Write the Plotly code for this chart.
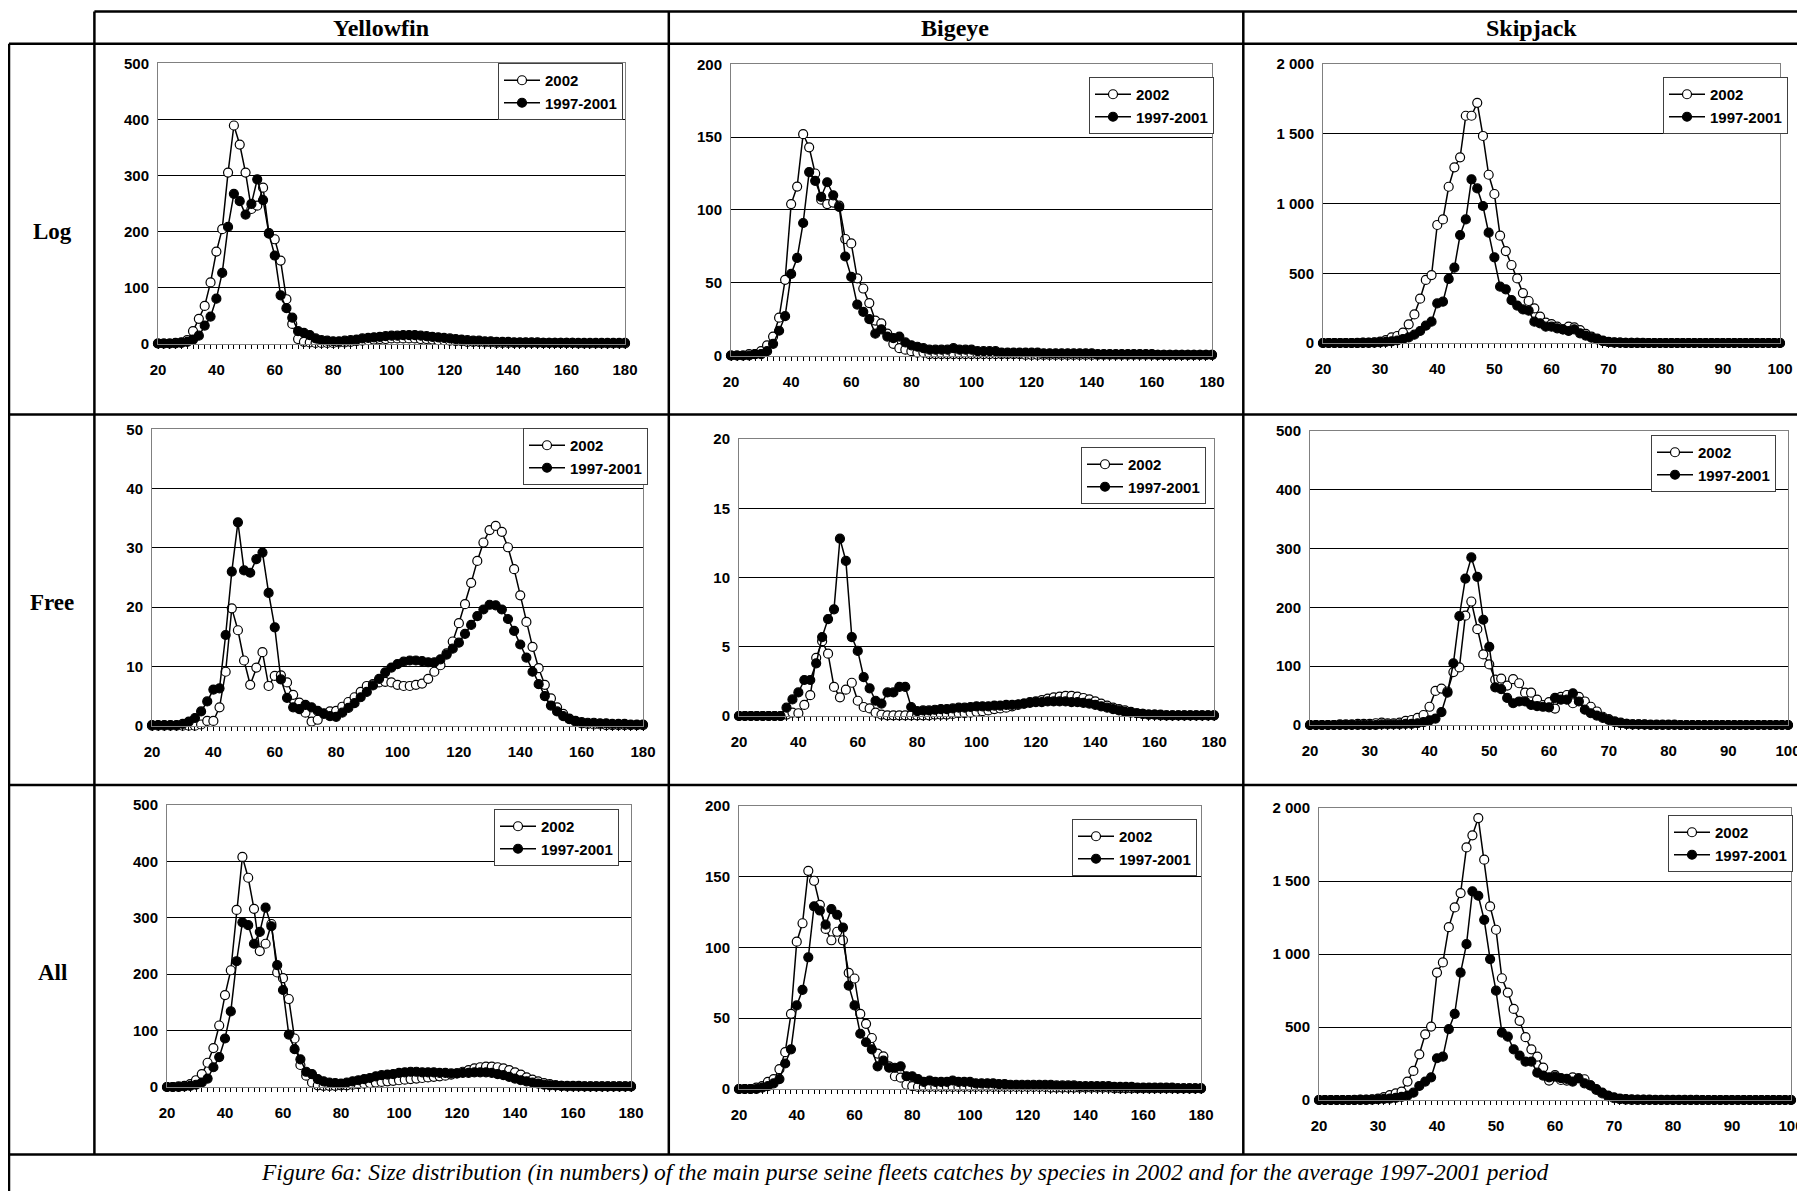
import plotly.graph_objects as go

W, H = 1805, 1191
PAGE_MARGIN = 8  # the html body keeps its default 8px margin

# size classes (cm): 2 cm classes for yellowfin / bigeye, 1 cm for skipjack
SIZES_YB = list(range(20, 181, 2))
SIZES_SKJ = list(range(20, 101))

SPECIES = ["Yellowfin", "Bigeye", "Skipjack"]
FLEETS = ["Log", "Free", "All"]
SERIES_NAMES = ["2002", "1997-2001"]
CAPTION = ("Figure 6a: Size distribution (in numbers) of the main purse seine fleets catches "
           "by species in 2002 and for the average 1997-2001 period")

# ---- Log ----
YF_LOG_2002 = [0, 0, 0, 1, 2, 6, 22, 44, 67, 109,
               164, 204, 305, 389, 355, 305, 240, 246, 278, 197,
               186, 148, 79, 35, 8, 3, 2, 1, 1, 1,
               1, 2, 2, 3, 4, 5, 6, 7, 8, 8,
               9, 9, 9, 9, 9, 8, 8, 7, 6, 6,
               5, 4, 4, 3, 3, 3, 2, 2, 1, 1,
               1, 1, 1, 1, 1, 1, 1, 1, 1, 1,
               1, 1, 0, 0, 0, 0, 0, 0, 0, 0,
               0]
YF_LOG_AVG = [0, 0, 0, 0, 1, 3, 7, 14, 32, 48,
              80, 126, 208, 267, 254, 230, 249, 293, 256, 196,
              157, 86, 63, 46, 22, 19, 15, 9, 6, 5,
              4, 4, 5, 6, 7, 9, 10, 11, 12, 13,
              14, 14, 15, 15, 15, 14, 13, 12, 11, 10,
              9, 8, 7, 6, 5, 5, 4, 4, 3, 3,
              3, 2, 2, 2, 2, 2, 1, 1, 1, 1,
              1, 1, 1, 1, 1, 1, 1, 1, 1, 1,
              1]
BE_LOG_2002 = [0, 0, 0, 1, 1, 3, 7, 13, 26, 52,
               104, 116, 152, 143, 125, 107, 104, 105, 103, 80,
               77, 53, 46, 36, 24, 22, 15, 8, 5, 4,
               3, 2, 2, 1, 1, 1, 1, 1, 1, 1,
               1, 1, 1, 1, 1, 1, 1, 1, 1, 0.5,
               0.5, 0.5, 0.5, 0.5, 0.5, 0.5, 0.5, 0.5, 0.5, 0.5,
               0.5, 0.5, 0.5, 0.5, 0.5, 0.5, 0.5, 0.5, 0.5, 0.5,
               0.5, 0.5, 0.5, 0.5, 0.5, 0.5, 0.5, 0.5, 0.5, 0.5,
               0.5]
BE_LOG_AVG = [0, 0, 0, 0, 1, 1, 3, 8, 17, 27,
              56, 67, 91, 126, 120, 109, 119, 110, 102, 68,
              54, 35, 30, 25, 15, 18, 13, 12, 13, 9,
              7, 6, 5, 4, 4, 4, 4, 5, 4, 4,
              4, 3, 3, 3, 3, 2, 2, 2, 2, 2,
              2, 2, 1.5, 1.5, 1.5, 1.5, 1.5, 1.5, 1.5, 1.5,
              1.5, 1, 1, 1, 1, 1, 1, 1, 1, 1,
              1, 0.5, 0.5, 0.5, 0.5, 0.5, 0.5, 0.5, 0.5, 0.5,
              0.5]
SKJ_LOG_2002 = [0, 0, 0, 0, 0, 0, 1, 2, 3, 5,
                10, 20, 41, 50, 74, 134, 205, 318, 452, 487,
                846, 886, 1120, 1259, 1331, 1629, 1629, 1722, 1484, 1206,
                1068, 769, 659, 559, 463, 358, 301, 248, 189, 146,
                136, 117, 98, 117, 112, 93, 65, 45, 31, 17,
                7, 3, 2, 1, 1, 1, 1, 0, 0, 0,
                0, 0, 0, 0, 0, 0, 0, 0, 0, 0,
                0, 0, 0, 0, 0, 0, 0, 0, 0, 0,
                0]
SKJ_LOG_AVG = [0, 0, 0, 0, 0, 0, 0, 1, 1, 2,
               5, 8, 12, 18, 28, 40, 60, 86, 124, 153,
               284, 296, 459, 540, 774, 886, 1173, 1108, 982, 791,
               614, 404, 385, 308, 268, 241, 232, 153, 141, 117,
               117, 105, 98, 86, 98, 69, 53, 38, 26, 14,
               8, 4, 2, 1, 1, 1, 0, 0, 0, 0,
               0, 0, 0, 0, 0, 0, 0, 0, 0, 0,
               0, 0, 0, 0, 0, 0, 0, 0, 0, 0,
               0]

# ---- Free ----
YF_FREE_2002 = [0, 0, 0, 0, 0, 0, 0, 0, 0.2, 0.8,
                0.8, 3.1, 9.1, 19.8, 16.1, 11.0, 6.9, 9.8, 12.4, 6.7,
                8.4, 8.5, 7.3, 5.2, 3.9, 2.2, 0.7, 1.0, 2.1, 2.4,
                2.5, 3.2, 4.0, 4.8, 5.7, 6.7, 7.0, 7.3, 7.4, 7.3,
                6.9, 6.7, 6.7, 6.9, 7.1, 7.9, 9.1, 10.2, 12.2, 14.2,
                17.3, 20.5, 24.1, 27.8, 30.9, 33.0, 33.7, 32.7, 30.1, 26.4,
                22.0, 17.5, 13.3, 9.7, 6.9, 4.6, 3.1, 2.0, 1.2, 0.7,
                0.4, 0.3, 0.2, 0.2, 0.1, 0.1, 0.1, 0.1, 0.1, 0.1,
                0.1]
YF_FREE_AVG = [0.1, 0.1, 0.1, 0.1, 0.1, 0.3, 0.7, 1.3, 2.4, 4.1,
               6.1, 6.3, 15.3, 26.0, 34.3, 26.2, 25.8, 28.1, 29.2, 22.4,
               16.6, 7.8, 4.7, 3.1, 2.8, 3.5, 3.1, 2.5, 2.0, 1.6,
               1.5, 2.2, 3.0, 3.8, 4.8, 5.7, 6.8, 7.9, 9.0, 9.8,
               10.4, 10.8, 11.0, 11.0, 10.9, 10.7, 10.7, 11.2, 12.0, 13.0,
               14.0, 15.5, 17.0, 18.5, 19.6, 20.4, 20.3, 19.6, 18.0, 16.0,
               13.7, 11.5, 9.1, 7.0, 5.0, 3.4, 2.4, 1.6, 1.1, 0.8,
               0.6, 0.5, 0.5, 0.4, 0.4, 0.3, 0.3, 0.3, 0.2, 0.2,
               0.2]
BE_FREE_2002 = [0, 0, 0, 0, 0, 0, 0, 0, 0.1, 0.25,
                0.2, 0.8, 1.5, 4.2, 5.4, 4.5, 2.1, 1.35, 1.9, 2.4,
                1.1, 0.65, 0.55, 0.25, 0.1, 0.05, 0.05, 0.05, 0.05, 0.05,
                0.05, 0.05, 0.05, 0.1, 0.1, 0.1, 0.15, 0.2, 0.2, 0.25,
                0.3, 0.35, 0.4, 0.5, 0.55, 0.6, 0.7, 0.8, 0.9, 1.0,
                1.05, 1.15, 1.25, 1.35, 1.4, 1.45, 1.45, 1.4, 1.3, 1.2,
                1.05, 0.9, 0.75, 0.6, 0.5, 0.4, 0.3, 0.2, 0.15, 0.1,
                0.1, 0.05, 0.05, 0.05, 0.05, 0.05, 0.05, 0.05, 0.05, 0.05,
                0.05]
BE_FREE_AVG = [0, 0, 0, 0, 0, 0, 0, 0, 0.6, 1.2,
               1.7, 2.6, 2.6, 3.8, 5.7, 7.0, 7.7, 12.8, 11.2, 5.7,
               4.7, 2.8, 2.0, 1.1, 0.9, 1.7, 1.7, 2.1, 2.1, 0.65,
               0.35, 0.4, 0.4, 0.45, 0.5, 0.5, 0.55, 0.6, 0.6, 0.65,
               0.7, 0.7, 0.7, 0.75, 0.75, 0.8, 0.8, 0.85, 0.9, 0.95,
               1.0, 1.0, 1.05, 1.05, 1.05, 1.05, 1.0, 1.0, 0.95, 0.9,
               0.8, 0.7, 0.6, 0.5, 0.4, 0.3, 0.25, 0.2, 0.15, 0.1,
               0.1, 0.1, 0.05, 0.05, 0.05, 0.05, 0.05, 0.05, 0.05, 0.05,
               0.05]
SKJ_FREE_2002 = [0, 0, 0, 0, 0, 1, 1, 1, 2, 2,
                 2, 3, 4, 3, 3, 4, 7, 8.5, 12, 17,
                 31, 58, 62, 57, 90, 98, 186, 210, 163, 120,
                 103, 77, 79, 67, 78, 71, 55, 55, 43, 34,
                 39, 28, 48, 51, 37, 48, 40, 31, 23, 14,
                 10, 6, 4, 2, 1, 1, 1, 0, 0, 0,
                 0, 0, 0, 0, 0, 0, 0, 0, 0, 0,
                 0, 0, 0, 0, 0, 0, 0, 0, 0, 0,
                 0]
SKJ_FREE_AVG = [0, 0, 0, 0, 0, 0, 0, 0, 0, 0,
                0, 0, 1, 1, 1, 1, 2, 2, 3, 5,
                8, 11, 22, 55, 105, 185, 249, 285, 252, 179,
                133, 64, 61, 46, 37, 40, 40, 34, 32, 31,
                30, 46, 43, 43, 54, 40, 26, 20, 16, 12,
                8.5, 5, 3, 2, 1, 1, 0.5, 0.5, 0.5, 0.5,
                0.5, 0.5, 0, 0, 0, 0, 0, 0, 0, 0,
                0, 0, 0, 0, 0, 0, 0, 0, 0, 0,
                0]

# ---- All ----
YF_ALL_2002 = [0, 0, 1, 2, 5, 12, 23, 43, 69, 109,
               163, 207, 314, 408, 371, 316, 241, 254, 289, 203,
               193, 156, 86, 39, 20, 8, 3, 2, 2, 2,
               3, 3, 4, 5, 6, 7, 8, 9, 10, 11,
               12, 13, 14, 15, 16, 17, 18, 19, 20, 22,
               24, 27, 30, 33, 35, 36, 36, 35, 33, 30,
               26, 22, 17, 13, 10, 7, 5, 3, 2, 1,
               1, 1, 1, 1, 1, 1, 1, 1, 1, 1,
               1]
YF_ALL_AVG = [0, 0, 0, 1, 2, 4, 8, 15, 35, 53,
              86, 134, 223, 292, 287, 254, 275, 318, 285, 216,
              172, 93, 67, 49, 27, 23, 14, 10, 8, 7,
              6, 8, 10, 12, 14, 16, 19, 21, 22, 23,
              25, 26, 27, 27, 26, 26, 26, 25, 25, 24,
              24, 25, 25, 26, 26, 26, 25, 23, 21, 18,
              15, 12, 10, 8, 6, 4, 3, 3, 2, 2,
              2, 2, 1, 1, 1, 1, 1, 1, 1, 1,
              1]
BE_ALL_2002 = [0, 0, 0, 1, 2, 5, 7, 14, 26, 53,
               104, 117, 154, 147, 130, 113, 105, 111, 105, 82,
               78, 53, 46, 36, 25, 23, 16, 9, 8, 3,
               2, 1.5, 1.5, 1.5, 1.5, 1.5, 1.5, 1.5, 1.5, 1.5,
               1.5, 1.5, 1.5, 1.5, 1.5, 1.5, 1.5, 1.5, 1.5, 1.5,
               1.5, 1.5, 1.5, 1.5, 1, 1, 1, 1, 1, 1,
               1, 1, 1, 1, 1, 0.5, 0.5, 0.5, 0.5, 0.5,
               0.5, 0.5, 0.5, 0.5, 0.5, 0.5, 0.5, 0.5, 0.5, 0.5,
               0.5]
BE_ALL_AVG = [0, 0, 0, 0, 1, 2, 4, 7, 18, 28,
              59, 70, 93, 129, 126, 116, 127, 123, 114, 73,
              59, 39, 33, 28, 16, 20, 15, 15, 16, 9,
              9, 7, 5, 6, 5, 5, 5, 6, 5, 5,
              5, 4, 4, 4, 4, 3.5, 3.5, 3, 3, 3,
              3, 3, 3, 3, 3, 2.5, 2.5, 2.5, 2.5, 2,
              2, 2, 2, 2, 2, 1.5, 1.5, 1.5, 1.5, 1,
              1, 1, 1, 1, 1, 1, 0.5, 0.5, 0.5, 0.5,
              0.5]
SKJ_ALL_2002 = [0, 0, 0, 0, 0, 0, 1, 2, 3, 5,
                10, 20, 34, 45, 57, 126, 199, 313, 450, 503,
                873, 942, 1184, 1319, 1417, 1730, 1813, 1931, 1646, 1326,
                1166, 834, 736, 624, 542, 430, 347, 297, 222, 133,
                171, 137, 133, 155, 149, 142, 100, 70, 45, 25,
                12, 6, 3, 1, 1, 1, 0, 0, 0, 0,
                0, 0, 0, 0, 0, 0, 0, 0, 0, 0,
                0, 0, 0, 0, 0, 0, 0, 0, 0, 0,
                0]
SKJ_ALL_AVG = [0, 0, 0, 0, 0, 0, 0, 1, 1, 2,
               5, 8, 10, 15, 22, 30, 50, 96, 126, 155,
               286, 297, 485, 590, 873, 1067, 1429, 1399, 1234, 965,
               749, 462, 434, 347, 304, 263, 263, 187, 167, 155,
               160, 150, 145, 126, 149, 114, 100, 75, 50, 30,
               18, 10, 6, 4, 3, 2, 2, 1, 1, 1,
               1, 1, 1, 1, 1, 0, 0, 0, 0, 0,
               0, 0, 0, 0, 0, 0, 0, 0, 0, 0,
               0]

# y-axis tick values
YF_LOG_TICKS = [0, 100, 200, 300, 400, 500]
BE_LOG_TICKS = [0, 50, 100, 150, 200]
SKJ_LOG_TICKS = [0, 500, 1000, 1500, 2000]
YF_FREE_TICKS = [0, 10, 20, 30, 40, 50]
BE_FREE_TICKS = [0, 5, 10, 15, 20]
SKJ_FREE_TICKS = [0, 100, 200, 300, 400, 500]

panels = [
    ("Log", "Yellowfin", SIZES_YB, YF_LOG_2002, YF_LOG_AVG, YF_LOG_TICKS),
    ("Log", "Bigeye", SIZES_YB, BE_LOG_2002, BE_LOG_AVG, BE_LOG_TICKS),
    ("Log", "Skipjack", SIZES_SKJ, SKJ_LOG_2002, SKJ_LOG_AVG, SKJ_LOG_TICKS),
    ("Free", "Yellowfin", SIZES_YB, YF_FREE_2002, YF_FREE_AVG, YF_FREE_TICKS),
    ("Free", "Bigeye", SIZES_YB, BE_FREE_2002, BE_FREE_AVG, BE_FREE_TICKS),
    ("Free", "Skipjack", SIZES_SKJ, SKJ_FREE_2002, SKJ_FREE_AVG, SKJ_FREE_TICKS),
    ("All", "Yellowfin", SIZES_YB, YF_ALL_2002, YF_ALL_AVG, YF_LOG_TICKS),
    ("All", "Bigeye", SIZES_YB, BE_ALL_2002, BE_ALL_AVG, BE_LOG_TICKS),
    ("All", "Skipjack", SIZES_SKJ, SKJ_ALL_2002, SKJ_ALL_AVG, SKJ_LOG_TICKS),
]

# plot boxes in page pixels: x of first class, x of last class, y of zero, y of top
PLOT_BOX = {
    ("Log", "Yellowfin"): (158, 625, 343.5, 63.3),
    ("Log", "Bigeye"): (731, 1212, 355.5, 64.3),
    ("Log", "Skipjack"): (1323, 1780, 343, 64),
    ("Free", "Yellowfin"): (152, 643, 725.7, 429.3),
    ("Free", "Bigeye"): (739, 1214, 716, 439),
    ("Free", "Skipjack"): (1310, 1788, 725, 431),
    ("All", "Yellowfin"): (167, 631, 1087, 805),
    ("All", "Bigeye"): (739, 1201, 1089, 805.7),
    ("All", "Skipjack"): (1319, 1791, 1100, 808),
}
# legend boxes: top-right corner in page pixels
LEGEND_AT = {
    ("Log", "Yellowfin"): (623, 63),
    ("Log", "Bigeye"): (1214, 77),
    ("Log", "Skipjack"): (1788, 77),
    ("Free", "Yellowfin"): (648, 428),
    ("Free", "Bigeye"): (1206, 447),
    ("Free", "Skipjack"): (1776, 435),
    ("All", "Yellowfin"): (619, 809),
    ("All", "Bigeye"): (1197, 819),
    ("All", "Skipjack"): (1793, 815),
}

SANS = "Liberation Sans, Arial, sans-serif"
SERIF = "Liberation Serif, Times New Roman, serif"


def px_x(v):
    return (v - PAGE_MARGIN) / W


def px_y(v):
    return 1 - (v - PAGE_MARGIN) / H


fig = go.Figure()
layout = {}

for i, (fleet, species, sizes, v02, vavg, yticks) in enumerate(panels, start=1):
    sfx = "" if i == 1 else str(i)
    x0, x1, yb, yt = PLOT_BOX[(fleet, species)]
    skj = species == "Skipjack"

    for name, vals, fill in ((SERIES_NAMES[0], v02, "white"), (SERIES_NAMES[1], vavg, "black")):
        fig.add_trace(go.Scatter(
            x=sizes, y=vals, mode="lines+markers", name=name,
            xaxis="x" + sfx, yaxis="y" + sfx, legend="legend" + sfx,
            line=dict(color="black", width=1.5),
            marker=dict(symbol="circle", size=9, color=fill,
                        line=dict(color="black", width=1.2)),
            cliponaxis=False,
        ))

    layout["xaxis" + sfx] = dict(
        domain=[px_x(x0), px_x(x1)], anchor="y" + sfx, automargin=False,
        range=[sizes[0], sizes[-1]], tick0=20, dtick=10 if skj else 20,
        ticks="outside", ticklen=4, tickcolor="black",
        minor=dict(dtick=1 if skj else 2, tick0=20, ticks="outside", ticklen=4,
                   tickcolor="black", showgrid=False),
        showgrid=False, zeroline=False,
        showline=True, linecolor="#808080", linewidth=1, mirror=True,
        ticklabelstandoff=8,
        tickfont=dict(family=SANS, size=15, color="black", weight="bold"),
    )
    layout["yaxis" + sfx] = dict(
        domain=[px_y(yb), px_y(yt)], anchor="x" + sfx, automargin=False,
        range=[0, yticks[-1]], tickvals=yticks,
        ticktext=[f"{v:,}".replace(",", " ") for v in yticks],
        ticks="", showgrid=True, gridcolor="black", gridwidth=1, zeroline=False,
        showline=True, linecolor="#808080", linewidth=1, mirror=True,
        ticklabelstandoff=5,
        tickfont=dict(family=SANS, size=15, color="black", weight="bold"),
    )
    lx, ly = LEGEND_AT[(fleet, species)]
    layout["legend" + sfx] = dict(
        x=px_x(lx), y=px_y(ly), xref="paper", yref="paper",
        xanchor="right", yanchor="top",
        bgcolor="white", bordercolor="#404040", borderwidth=1,
        font=dict(family=SANS, size=15, color="black", weight="bold"),
        itemwidth=36, traceorder="normal", tracegroupgap=0,
    )

# table rules
H_RULES = [(11.5, 94.4, W + 20), (43.7, 9, W + 20), (414.4, 9, W + 20),
           (785, 9, W + 20), (1154.6, 9, W + 20)]
V_RULES = [(9, 43.7, H + 20), (94.4, 11.5, 1154.6), (668.8, 11.5, 1154.6), (1243.3, 11.5, 1154.6)]
shapes = []
for y, xa, xb in H_RULES:
    shapes.append(dict(type="line", xref="paper", yref="paper",
                       x0=px_x(xa), x1=px_x(xb), y0=px_y(y), y1=px_y(y),
                       line=dict(color="black", width=2.5)))
for x, ya, yb in V_RULES:
    shapes.append(dict(type="line", xref="paper", yref="paper",
                       x0=px_x(x), x1=px_x(x), y0=px_y(ya), y1=px_y(yb),
                       line=dict(color="black", width=2.5)))

annotations = []
for name, cx in zip(SPECIES, (381, 955, 1531)):
    annotations.append(dict(text=name, x=px_x(cx), y=px_y(28), xref="paper", yref="paper",
                            xanchor="center", yanchor="middle", showarrow=False,
                            font=dict(family=SERIF, size=24, color="black", weight="bold")))
for name, cy in zip(FLEETS, (231, 602, 972)):
    annotations.append(dict(text=name, x=px_x(52), y=px_y(cy), xref="paper", yref="paper",
                            xanchor="center", yanchor="middle", showarrow=False,
                            font=dict(family=SERIF, size=23, color="black", weight="bold")))
annotations.append(dict(text=CAPTION, x=px_x(904), y=px_y(1172), xref="paper", yref="paper",
                        xanchor="center", yanchor="middle", showarrow=False,
                        font=dict(family=SERIF, size=23.5, color="black", style="italic")))

fig.update_layout(
    template="none",
    width=W, height=H, autosize=False,
    margin=dict(l=0, r=0, t=0, b=0, autoexpand=False),
    paper_bgcolor="white", plot_bgcolor="white",
    shapes=shapes, annotations=annotations,
    **layout,
)

fig.write_html("out.html")
